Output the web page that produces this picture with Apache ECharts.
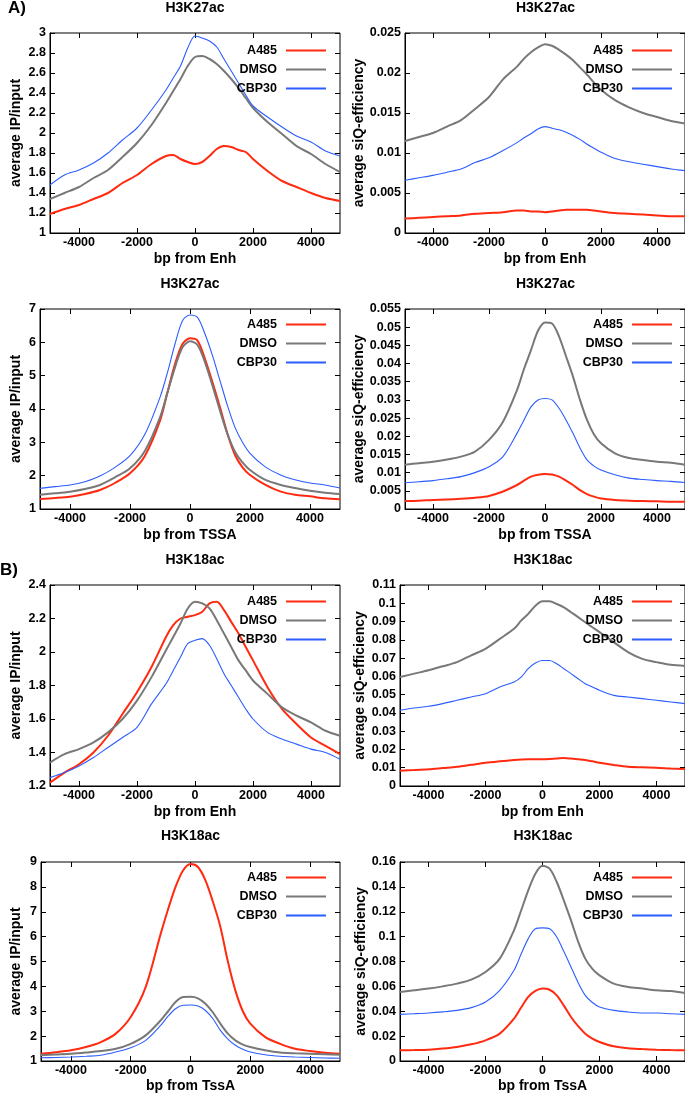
<!DOCTYPE html>
<html><head><meta charset="utf-8">
<script src="https://cdn.jsdelivr.net/npm/echarts@6/dist/echarts.min.js"></script>
<style>html,body{margin:0;padding:0;background:#fff}#c{width:685px;height:1095px}</style>
</head><body><div id="c"></div>
<script>
// ---------- data ----------
const positions = [-5000,-4500,-4000,-3500,-3000,-2500,-2000,-1500,-1000,-750,-500,-250,0,250,500,750,1000,1250,1500,1750,2000,2500,3000,3500,4000,4500,5000];
const xTicks = [-4000,-2000,0,2000,4000];
const seriesNames = ['A485','DMSO','CBP30'];

const panelTitles = ['H3K27ac','H3K27ac','H3K27ac','H3K27ac','H3K18ac','H3K18ac','H3K18ac','H3K18ac'];
const xNames = ['bp from Enh','bp from Enh','bp from TSSA','bp from TSSA','bp from Enh','bp from Enh','bp from TssA','bp from TssA'];
const yNames = ['average IP/input','average siQ-efficiency','average IP/input','average siQ-efficiency','average IP/input','average siQ-efficiency','average IP/input','average siQ-efficiency'];
// [min, max, interval]
const yRanges = [[1,3,0.2],[0,0.025,0.005],[1,7,1],[0,0.055,0.005],[1.2,2.4,0.2],[0,0.11,0.01],[1,9,1],[0,0.16,0.02]];
const sectionLabels = ['A)','B)'];

// Panel 1: H3K27ac, Enh, IP/input
const p1_A485  = [1.19,1.24,1.28,1.34,1.40,1.50,1.58,1.69,1.77,1.78,1.74,1.71,1.69,1.71,1.77,1.84,1.87,1.86,1.83,1.81,1.74,1.62,1.52,1.46,1.40,1.35,1.32];
const p1_DMSO  = [1.34,1.40,1.46,1.55,1.63,1.76,1.90,2.08,2.30,2.42,2.54,2.67,2.76,2.77,2.74,2.69,2.62,2.54,2.45,2.35,2.25,2.11,1.99,1.87,1.79,1.69,1.61];
const p1_CBP30 = [1.48,1.58,1.63,1.70,1.80,1.93,2.05,2.23,2.43,2.55,2.67,2.85,2.97,2.95,2.92,2.86,2.74,2.62,2.50,2.38,2.27,2.16,2.06,1.97,1.91,1.82,1.77];
// Panel 2: H3K27ac, Enh, siQ-efficiency
const p2_A485  = [0.0018,0.0019,0.0020,0.0021,0.0022,0.0024,0.0025,0.0026,0.0028,0.0028,0.0027,0.0027,0.0026,0.0027,0.0028,0.0029,0.0029,0.0029,0.0029,0.0028,0.0027,0.0025,0.0024,0.0023,0.0022,0.0021,0.0021];
const p2_DMSO  = [0.0115,0.0120,0.0125,0.0133,0.0141,0.0155,0.0170,0.0192,0.0208,0.0218,0.0226,0.0232,0.0236,0.0234,0.0229,0.0223,0.0216,0.0207,0.0198,0.0188,0.0179,0.0166,0.0157,0.0150,0.0145,0.0140,0.0137];
const p2_CBP30 = [0.0066,0.0069,0.0072,0.0076,0.0080,0.0088,0.0094,0.0103,0.0113,0.0119,0.0124,0.0130,0.0133,0.0131,0.0129,0.0126,0.0122,0.0117,0.0111,0.0106,0.0101,0.0093,0.0089,0.0086,0.0083,0.0080,0.0078];
// Panel 3: H3K27ac, TSSA, IP/input
const p3_A485  = [1.30,1.33,1.37,1.45,1.57,1.78,2.07,2.60,3.65,4.50,5.35,5.95,6.12,6.05,5.50,4.80,4.05,3.25,2.62,2.25,2.02,1.73,1.53,1.43,1.38,1.32,1.29];
const p3_DMSO  = [1.43,1.47,1.52,1.60,1.72,1.95,2.22,2.75,3.75,4.50,5.25,5.85,6.03,5.92,5.40,4.70,3.95,3.25,2.72,2.40,2.17,1.88,1.73,1.63,1.55,1.49,1.45];
const p3_CBP30 = [1.62,1.67,1.72,1.82,1.99,2.25,2.60,3.25,4.35,5.10,5.95,6.65,6.82,6.75,6.25,5.60,4.85,4.10,3.45,3.00,2.67,2.27,2.03,1.88,1.78,1.72,1.63];
// Panel 4: H3K27ac, TSSA, siQ-efficiency
const p4_A485  = [0.0022,0.0023,0.0025,0.0026,0.0028,0.0031,0.0036,0.0048,0.0066,0.0078,0.0089,0.0094,0.0096,0.0095,0.0089,0.0078,0.0066,0.0052,0.0041,0.0034,0.0029,0.0025,0.0023,0.0022,0.0021,0.0020,0.0020];
const p4_DMSO  = [0.0122,0.0126,0.0130,0.0136,0.0144,0.0158,0.0190,0.0240,0.0327,0.0385,0.0437,0.0490,0.0513,0.0510,0.0475,0.0420,0.0364,0.0300,0.0245,0.0205,0.0181,0.0153,0.0140,0.0135,0.0130,0.0127,0.0122];
const p4_CBP30 = [0.0072,0.0075,0.0078,0.0083,0.0089,0.0100,0.0116,0.0144,0.0208,0.0245,0.0281,0.0300,0.0304,0.0300,0.0277,0.0245,0.0208,0.0168,0.0135,0.0118,0.0107,0.0094,0.0085,0.0081,0.0078,0.0076,0.0073];
// Panel 5: H3K18ac, Enh, IP/input
const p5_A485  = [1.22,1.28,1.33,1.40,1.50,1.63,1.76,1.91,2.09,2.16,2.20,2.21,2.22,2.24,2.29,2.30,2.25,2.18,2.11,2.03,1.95,1.79,1.66,1.57,1.49,1.44,1.39];
const p5_DMSO  = [1.34,1.39,1.42,1.46,1.52,1.60,1.71,1.85,2.01,2.09,2.17,2.26,2.30,2.29,2.26,2.19,2.11,2.03,1.95,1.89,1.83,1.75,1.67,1.62,1.58,1.53,1.50];
const p5_CBP30 = [1.25,1.28,1.32,1.37,1.43,1.49,1.55,1.69,1.81,1.89,1.97,2.05,2.07,2.08,2.04,1.96,1.87,1.80,1.73,1.66,1.60,1.52,1.48,1.45,1.42,1.40,1.36];
// Panel 6: H3K18ac, Enh, siQ-efficiency
const p6_A485  = [0.0084,0.0087,0.0091,0.0098,0.0105,0.0116,0.0127,0.0135,0.0142,0.0145,0.0147,0.0147,0.0147,0.0148,0.0150,0.0153,0.0150,0.0146,0.0142,0.0135,0.0127,0.0115,0.0105,0.0102,0.0100,0.0096,0.0093];
const p6_DMSO  = [0.0596,0.0615,0.0633,0.0655,0.0678,0.0715,0.0751,0.0805,0.0860,0.0905,0.0942,0.0987,0.1011,0.1011,0.0996,0.0978,0.0951,0.0924,0.0896,0.0869,0.0842,0.0787,0.0733,0.0696,0.0678,0.0663,0.0657];
const p6_CBP30 = [0.0415,0.0427,0.0436,0.0451,0.0469,0.0487,0.0505,0.0542,0.0569,0.0596,0.0642,0.0673,0.0687,0.0687,0.0669,0.0642,0.0615,0.0587,0.0560,0.0542,0.0524,0.0496,0.0487,0.0478,0.0469,0.0460,0.0451];
// Panel 7: H3K18ac, TssA, IP/input
const p7_A485  = [1.29,1.35,1.43,1.56,1.76,2.10,2.77,3.97,6.10,7.10,8.00,8.66,8.92,8.80,8.26,7.40,6.39,5.00,3.84,3.00,2.50,1.96,1.69,1.49,1.40,1.33,1.29];
const p7_DMSO  = [1.23,1.26,1.29,1.34,1.40,1.49,1.69,2.03,2.63,3.00,3.37,3.57,3.58,3.52,3.30,2.95,2.50,2.10,1.83,1.66,1.56,1.43,1.34,1.31,1.29,1.27,1.25];
const p7_CBP30 = [1.13,1.14,1.16,1.19,1.23,1.36,1.53,1.83,2.43,2.80,3.10,3.24,3.25,3.21,3.03,2.70,2.23,1.88,1.63,1.47,1.36,1.25,1.19,1.16,1.14,1.12,1.11];
// Panel 8: H3K18ac, TssA, siQ-efficiency
const p8_A485  = [0.0086,0.0088,0.0091,0.0100,0.0113,0.0134,0.0166,0.0220,0.0340,0.0430,0.0515,0.0563,0.0582,0.0573,0.0528,0.0445,0.0354,0.0280,0.0220,0.0180,0.0153,0.0118,0.0102,0.0096,0.0091,0.0088,0.0086];
const p8_DMSO  = [0.0555,0.0568,0.0582,0.0600,0.0622,0.0654,0.0716,0.0823,0.1051,0.1210,0.1372,0.1506,0.1570,0.1546,0.1439,0.1290,0.1131,0.0960,0.0823,0.0740,0.0689,0.0622,0.0595,0.0582,0.0568,0.0563,0.0547];
const p8_CBP30 = [0.0375,0.0380,0.0386,0.0395,0.0407,0.0429,0.0474,0.0568,0.0729,0.0860,0.0984,0.1064,0.1070,0.1064,0.0997,0.0880,0.0756,0.0630,0.0528,0.0470,0.0434,0.0407,0.0394,0.0386,0.0386,0.0380,0.0375];

const panelData = [
  [p1_A485,p1_DMSO,p1_CBP30],[p2_A485,p2_DMSO,p2_CBP30],
  [p3_A485,p3_DMSO,p3_CBP30],[p4_A485,p4_DMSO,p4_CBP30],
  [p5_A485,p5_DMSO,p5_CBP30],[p6_A485,p6_DMSO,p6_CBP30],
  [p7_A485,p7_DMSO,p7_CBP30],[p8_A485,p8_DMSO,p8_CBP30]
];

// ---------- layout & style ----------
const FONT = "'Liberation Sans', Arial, sans-serif";
const colors = ['#ff2a0f', '#787878', '#2b5dff'];
const widths = [2, 2, 1.1];
const layouts = [
  {left:50,  top:33,  width:290, height:200, yGap:27, xGap:19, titleY:8,   legRight:359, legTop:43},
  {left:405, top:33,  width:281, height:200, yGap:32, xGap:19, titleY:8,   legRight:13,  legTop:43},
  {left:40,  top:309, width:300, height:200, yGap:17, xGap:19, titleY:284, legRight:359, legTop:317},
  {left:405, top:309, width:281, height:200, yGap:32, xGap:19, titleY:284, legRight:13,  legTop:317},
  {left:50,  top:585, width:290, height:201, yGap:27, xGap:19, titleY:560, legRight:359, legTop:594},
  {left:400, top:585, width:286, height:201, yGap:33, xGap:19, titleY:560, legRight:13,  legTop:594},
  {left:41,  top:862, width:299, height:199, yGap:18, xGap:18, titleY:836, legRight:359, legTop:870},
  {left:400, top:862, width:286, height:199, yGap:27, xGap:18, titleY:836, legRight:13,  legTop:870}
];

const labelStyle = {fontFamily: FONT, fontWeight: 'bold', fontSize: 12.5, color: '#000'};
const option = {
  animation: false,
  backgroundColor: '#fff',
  grid: [], xAxis: [], yAxis: [], series: [], legend: [], title: [],
  graphic: [
    {type:'text', left: 8, top: 0, style:{text: sectionLabels[0], font: 'bold 17px ' + FONT, fill:'#000'}},
    {type:'text', left: 0, top: 562, style:{text: sectionLabels[1], font: 'bold 17px ' + FONT, fill:'#000'}}
  ]
};

layouts.forEach((L, i) => {
  option.grid.push({left: L.left, top: L.top, width: L.width, height: L.height, containLabel: false,
    show: true, borderColor: '#000', borderWidth: 1, backgroundColor: 'transparent'});
  const [ymin, ymax, yint] = yRanges[i];
  // bottom x axis
  option.xAxis.push({
    type: 'value', gridIndex: i, min: -5000, max: 5000, position: 'bottom',
    name: xNames[i], nameLocation: 'middle', nameGap: L.xGap,
    nameTextStyle: {fontFamily: FONT, fontWeight: 'bold', fontSize: 14, color: '#000'},
    axisLine: {show: true, onZero: false, lineStyle: {color: '#000', width: 1}},
    axisTick: {show: true, inside: true, length: 5, customValues: xTicks, lineStyle: {color: '#000'}},
    axisLabel: Object.assign({margin: 3, customValues: xTicks, formatter: v => String(v)}, labelStyle),
    splitLine: {show: false}
  });
  // top mirror x axis (ticks only)
  option.xAxis.push({
    type: 'value', gridIndex: i, min: -5000, max: 5000, position: 'top',
    axisLine: {show: false, onZero: false},
    axisTick: {show: true, inside: true, length: 5, customValues: xTicks, lineStyle: {color: '#000'}},
    axisLabel: {show: false}, splitLine: {show: false}
  });
  option.yAxis.push({
    type: 'value', gridIndex: i, min: ymin, max: ymax, interval: yint, position: 'left',
    name: yNames[i], nameLocation: 'middle', nameGap: L.yGap,
    nameTextStyle: {fontFamily: FONT, fontWeight: 'bold', fontSize: 14, color: '#000'},
    axisLine: {show: true, onZero: false, lineStyle: {color: '#000', width: 1}},
    axisTick: {show: true, inside: true, length: 5, lineStyle: {color: '#000'}},
    axisLabel: Object.assign({margin: 4}, labelStyle),
    splitLine: {show: false}
  });
  option.yAxis.push({
    type: 'value', gridIndex: i, min: ymin, max: ymax, interval: yint, position: 'right',
    axisLine: {show: false, onZero: false},
    axisTick: {show: true, inside: true, length: 5, lineStyle: {color: '#000'}},
    axisLabel: {show: false}, splitLine: {show: false}
  });
  option.title.push({
    text: panelTitles[i], left: L.left + L.width / 2, top: L.titleY - 7, textAlign: 'center', padding: 0,
    textStyle: {fontFamily: FONT, fontWeight: 'bold', fontSize: 14, color: '#000'}
  });
  option.legend.push({
    data: seriesNames, orient: 'vertical', align: 'right', right: L.legRight, top: L.legTop,
    icon: 'rect', itemWidth: 40, itemHeight: 2, itemGap: 4, selectedMode: false, padding: 0,
    textStyle: {fontFamily: FONT, fontWeight: 'bold', fontSize: 12.5, lineHeight: 15, color: '#000', padding: [0, 4, 0, 0]}
  });
  seriesNames.forEach((nm, k) => {
    option.series.push({
      type: 'line', name: nm, xAxisIndex: 2 * i, yAxisIndex: 2 * i,
      data: positions.map((x, j) => [x, panelData[i][k][j]]),
      showSymbol: false, symbol: 'none', smooth: 0.3,
      lineStyle: {color: colors[k], width: widths[k]}, itemStyle: {color: colors[k]},
      clip: true
    });
  });
});

const chart = echarts.init(document.getElementById('c'), null, {renderer: 'canvas'});
chart.setOption(option);
</script>
</body></html>
